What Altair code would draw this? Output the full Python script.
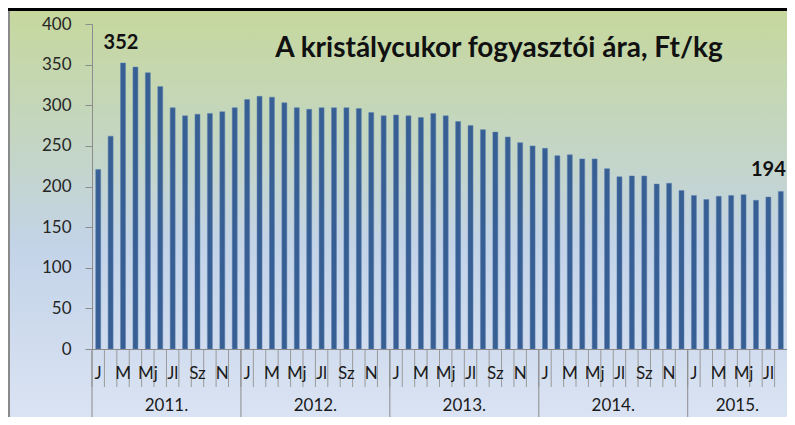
import altair as alt
import pandas as pd

# ---- data ----
years = ["2011.", "2012.", "2013.", "2014.", "2015."]
month_labels = ["J", "", "M", "", "Mj", "", "Jl", "", "Sz", "", "N", ""]
values_2011 = [221, 262, 352, 347, 340, 323, 297, 287, 289, 290, 292, 297]
values_2012 = [307, 311, 310, 303, 297, 295, 297, 297, 297, 296, 291, 287]
values_2013 = [288, 287, 285, 290, 287, 280, 275, 270, 267, 261, 254, 250]
values_2014 = [247, 238, 239, 234, 234, 222, 212, 213, 213, 203, 204, 195]
values_2015 = [189, 184, 188, 189, 190, 183, 187, 194]
title_text = "A kristálycukor fogyasztói ára, Ft/kg"
y_ticks = [0, 50, 100, 150, 200, 250, 300, 350, 400]

series = [values_2011, values_2012, values_2013, values_2014, values_2015]
rows = []
i = 0
for yr, vals in zip(years, series):
    for m, v in enumerate(vals):
        rows.append({"idx": i, "year": yr, "month": month_labels[m], "mpos": m, "value": v})
        i += 1
df = pd.DataFrame(rows)
N = len(df)
max_idx = int(df["value"].idxmax())
last_idx = N - 1

W, H = 695, 325
BOTTOM = 393
FONT = "Lato"

xscale = alt.Scale(domain=[-0.5, N - 0.5], nice=False, zero=False, padding=0)
yscale = alt.Scale(domain=[0, 400], nice=False)

one = pd.DataFrame({"a": [0]})

bg = alt.Chart(one).mark_rect(
    fill=alt.Gradient(
        gradient="linear", x1=0, y1=0, x2=0, y2=1,
        stops=[
            alt.GradientStop(color="#c6d89d", offset=0),
            alt.GradientStop(color="#c4d6c0", offset=0.3),
            alt.GradientStop(color="#c3d3e8", offset=0.58),
            alt.GradientStop(color="#dae3f3", offset=1),
        ],
    )
).encode(x=alt.value(-84), x2=alt.value(W), y=alt.value(-13), y2=alt.value(BOTTOM))

top_line = alt.Chart(one).mark_rule(color="black", strokeWidth=3).encode(
    x=alt.value(-84), x2=alt.value(W), y=alt.value(-14.5)
)
left_line = alt.Chart(one).mark_rule(color="#8a8a8a", strokeWidth=2).encode(
    x=alt.value(-83), y=alt.value(-13), y2=alt.value(BOTTOM)
)

base = alt.Chart(df)

bars = base.mark_bar(width=5, color="#375f93", stroke="#5f83b5", strokeWidth=0.5).encode(
    x=alt.X("idx:Q", scale=xscale,
            axis=alt.Axis(labels=False, ticks=False, grid=False, title=None,
                          domainColor="#8c8c8c", domainWidth=1, zindex=1)),
    y=alt.Y("value:Q", scale=yscale,
            axis=alt.Axis(values=y_ticks, title=None, grid=False, tickSize=7,
                          labelPadding=14, labelFontSize=17, labelFont=FONT,
                          labelColor="#262626", tickColor="#8c8c8c",
                          domainColor="#8c8c8c", zindex=1)),
)

month_ticks = base.transform_calculate(b="datum.idx - 0.5").mark_rule(
    color="#9a9a9a", strokeWidth=1
).encode(x=alt.X("b:Q", scale=xscale), y=alt.value(H), y2=alt.value(H + 38))

year_sep = base.transform_filter("datum.mpos == 0").transform_calculate(
    b="datum.idx - 0.5"
).mark_rule(color="#8c8c8c", strokeWidth=1).encode(
    x=alt.X("b:Q", scale=xscale), y=alt.value(H), y2=alt.value(BOTTOM)
)

month_text = base.transform_filter("datum.month != ''").mark_text(
    font=FONT, fontSize=17, color="#1a1a1a", baseline="alphabetic"
).encode(x=alt.X("idx:Q", scale=xscale), y=alt.value(H + 30), text="month:N")

year_text = base.transform_aggregate(
    mid="mean(idx)", groupby=["year"]
).mark_text(font=FONT, fontSize=17, color="#1a1a1a", baseline="alphabetic").encode(
    x=alt.X("mid:Q", scale=xscale), y=alt.value(BOTTOM - 6), text="year:N"
)

label_max = base.transform_filter(f"datum.idx == {max_idx}").mark_text(
    font=FONT, fontSize=20, fontWeight="bold", color="#111111",
    baseline="middle", dy=-20, dx=-2
).encode(x=alt.X("idx:Q", scale=xscale), y=alt.Y("value:Q", scale=yscale), text="value:Q")

label_last = base.transform_filter(f"datum.idx == {last_idx}").mark_text(
    font=FONT, fontSize=20, fontWeight="bold", color="#111111",
    baseline="middle", align="right", dy=-21, dx=5
).encode(x=alt.X("idx:Q", scale=xscale), y=alt.Y("value:Q", scale=yscale), text="value:Q")

title = alt.Chart(one).mark_text(
    text=title_text, font=FONT, fontSize=28, fontWeight="bold", color="#111111",
    baseline="alphabetic", align="center"
).encode(x=alt.value(407), y=alt.value(33))

chart = alt.layer(
    bg, top_line, left_line, month_ticks, year_sep, bars, month_text, year_text,
    label_max, label_last, title
).properties(
    width=W, height=H,
    autosize=alt.AutoSizeParams(type="none"),
    padding={"left": 84, "top": 16, "right": 0, "bottom": BOTTOM - H},
).configure_view(stroke=None).configure(background="white")

chart.save("out.html", embed_options={"renderer": "svg", "actions": False})
